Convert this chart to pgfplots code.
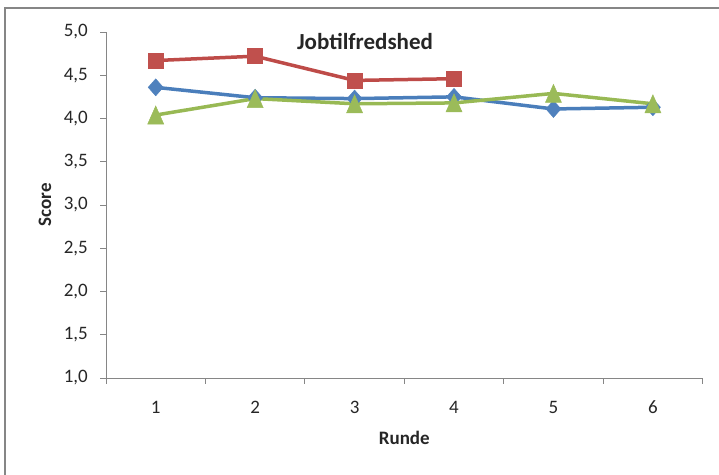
\documentclass[border=0pt]{standalone}
\usepackage{pgfplots}
\pgfplotsset{compat=1.18}
\usepackage{fontspec}
\setmainfont{Carlito}

\definecolor{serA}{HTML}{4A7EBB}
\definecolor{serAfill}{HTML}{4F81BD}
\definecolor{serB}{HTML}{BE4B48}
\definecolor{serBfill}{HTML}{C0504D}
\definecolor{serC}{HTML}{98B954}
\definecolor{serCfill}{HTML}{9BBB59}
\definecolor{axgray}{HTML}{868686}
\definecolor{txt}{HTML}{262626}

% box-centred marks
\pgfdeclareplotmark{bdiamond}{%
  \pgfpathmoveto{\pgfqpoint{0bp}{8.5bp}}%
  \pgfpathlineto{\pgfqpoint{7.5bp}{0bp}}%
  \pgfpathlineto{\pgfqpoint{0bp}{-8.5bp}}%
  \pgfpathlineto{\pgfqpoint{-7.5bp}{0bp}}%
  \pgfpathclose\pgfusepathqfillstroke}
\pgfdeclareplotmark{bsquare}{%
  \pgfpathrectangle{\pgfqpoint{-7.5bp}{-7.5bp}}{\pgfqpoint{15bp}{15bp}}%
  \pgfusepathqfillstroke}
\pgfdeclareplotmark{btri}{%
  \pgfpathmoveto{\pgfqpoint{0bp}{9bp}}%
  \pgfpathlineto{\pgfqpoint{8bp}{-9bp}}%
  \pgfpathlineto{\pgfqpoint{-8bp}{-9bp}}%
  \pgfpathclose\pgfusepathqfillstroke}

\begin{document}
\begin{tikzpicture}[x=1bp,y=1bp]
\useasboundingbox (0,0) rectangle (719,475);
\draw[axgray, line width=2bp] (5,0) -- (5,467) -- (719,467);

\begin{axis}[
  at={(106bp,97bp)}, anchor=south west,
  scale only axis, width=596.6bp, height=346bp,
  xmin=0.5, xmax=6.5, ymin=1, ymax=5,
  axis lines*=left,
  axis line style={axgray, line width=0.8bp},
  every tick/.style={axgray, line width=0.8bp},
  tick align=outside,
  xtick={1,...,6},
  major x tick style={draw=none},
  minor xtick={0.5,1.5,...,6.5},
  minor tick length=6bp,
  ytick={1,1.5,...,5},
  major tick length=6bp,
  /pgf/number format/assume math mode=true,
  yticklabel={\pgfmathprintnumber[use comma,fixed,fixed zerofill,precision=1]{\tick}},
  tick label style={font=\fontsize{19bp}{22bp}\selectfont, text=txt},
  xticklabel style={anchor=center, yshift=-23bp},
  yticklabel style={anchor=east, inner sep=0pt, xshift=-12bp},
  xlabel={\textbf{Runde}},
  ylabel={\textbf{Score}},
  label style={font=\fontsize{19bp}{22bp}\selectfont, text=txt},
  xlabel style={at={(axis description cs:0.5,0)}, anchor=center, yshift=-60bp},
  ylabel style={at={(axis description cs:0,0.5)}, anchor=center, yshift=61bp},
  clip=false,
]
\addplot[serA, line width=3.5bp, mark=bdiamond, mark options={fill=serAfill, draw=serAfill, line width=0.5bp}]
  coordinates {(1,4.36) (2,4.24) (3,4.23) (4,4.25) (5,4.11) (6,4.13)};
\addplot[serB, line width=3.5bp, mark=bsquare, mark options={fill=serBfill, draw=serBfill, line width=0.5bp}]
  coordinates {(1,4.67) (2,4.72) (3,4.44) (4,4.46)};
\addplot[serC, line width=3.5bp, mark=btri, mark options={fill=serCfill, draw=serCfill, line width=0.5bp}]
  coordinates {(1,4.04) (2,4.23) (3,4.17) (4,4.18) (5,4.29) (6,4.17)};
\end{axis}

\node[font=\bfseries\fontsize{23bp}{26bp}\selectfont, text=txt] at (365,433) {Jobtilfredshed};
\end{tikzpicture}
\end{document}
